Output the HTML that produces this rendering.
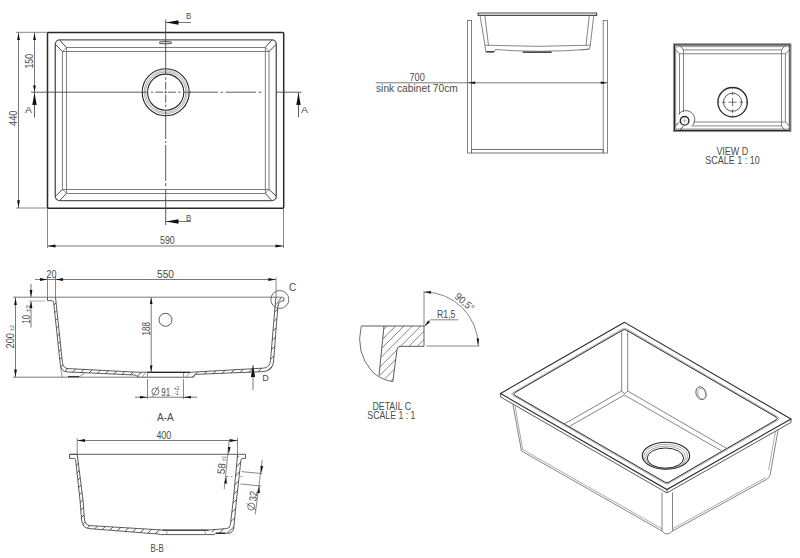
<!DOCTYPE html>
<html><head><meta charset="utf-8"><style>
html,body{margin:0;padding:0;background:#fff;width:800px;height:558px;overflow:hidden}
svg{display:block}
text{font-family:"Liberation Sans",sans-serif}
</style></head><body>
<svg width="800" height="558" viewBox="0 0 800 558" stroke-linecap="butt">
<rect width="800" height="558" fill="#fff"/>
<rect x="47.50" y="32.40" width="236.20" height="175.80" rx="1" stroke="#2a2a2a" stroke-width="1.5" fill="none"/>
<rect x="55.30" y="39.90" width="221.00" height="160.70" rx="4.4" stroke="#5a5a5a" stroke-width="1.4" fill="none"/>
<rect x="66.40" y="47.50" width="198.90" height="146.00" rx="0" stroke="#707070" stroke-width="0.9" fill="none"/>
<rect x="62.40" y="51.50" width="206.60" height="138.00" rx="0" stroke="#707070" stroke-width="0.9" fill="none"/>
<line x1="59.70" y1="39.90" x2="66.40" y2="47.50" stroke="#4a4a4a" stroke-width="1.0" />
<line x1="55.30" y1="44.30" x2="62.40" y2="51.50" stroke="#4a4a4a" stroke-width="1.0" />
<line x1="62.40" y1="51.50" x2="66.40" y2="47.50" stroke="#666" stroke-width="0.7" />
<line x1="271.90" y1="39.90" x2="265.30" y2="47.50" stroke="#4a4a4a" stroke-width="1.0" />
<line x1="276.30" y1="44.30" x2="269.00" y2="51.50" stroke="#4a4a4a" stroke-width="1.0" />
<line x1="269.00" y1="51.50" x2="265.30" y2="47.50" stroke="#666" stroke-width="0.7" />
<line x1="59.70" y1="200.60" x2="66.40" y2="193.50" stroke="#4a4a4a" stroke-width="1.0" />
<line x1="55.30" y1="196.20" x2="62.40" y2="189.50" stroke="#4a4a4a" stroke-width="1.0" />
<line x1="62.40" y1="189.50" x2="66.40" y2="193.50" stroke="#666" stroke-width="0.7" />
<line x1="271.90" y1="200.60" x2="265.30" y2="193.50" stroke="#4a4a4a" stroke-width="1.0" />
<line x1="276.30" y1="196.20" x2="269.00" y2="189.50" stroke="#4a4a4a" stroke-width="1.0" />
<line x1="269.00" y1="189.50" x2="265.30" y2="193.50" stroke="#666" stroke-width="0.7" />
<ellipse cx="165.50" cy="42.70" rx="6.50" ry="1.10" stroke="#4a4a4a" stroke-width="1.0" fill="none" transform="rotate(0 165.50 42.70)"/>
<circle cx="165.70" cy="92.20" r="23.50" stroke="#2a2a2a" stroke-width="1.15" fill="none"/>
<circle cx="165.70" cy="92.20" r="21.50" stroke="#777" stroke-width="0.55" fill="none"/>
<circle cx="165.70" cy="92.20" r="20.10" stroke="#666" stroke-width="0.55" fill="none"/>
<circle cx="165.70" cy="92.20" r="18.10" stroke="#2a2a2a" stroke-width="1.1" fill="none"/>
<line x1="31.00" y1="92.20" x2="139.40" y2="92.20" stroke="#4a4a4a" stroke-width="0.9" />
<line x1="164.90" y1="92.20" x2="166.50" y2="92.20" stroke="#4a4a4a" stroke-width="0.9" />
<line x1="164.90" y1="92.20" x2="166.50" y2="92.20" stroke="#4a4a4a" stroke-width="0.9" />
<line x1="165.70" y1="91.40" x2="165.70" y2="93.00" stroke="#4a4a4a" stroke-width="0.9" />
<line x1="165.70" y1="91.40" x2="165.70" y2="93.00" stroke="#4a4a4a" stroke-width="0.9" />
<line x1="168.10" y1="92.20" x2="176.10" y2="92.20" stroke="#4a4a4a" stroke-width="0.9" />
<line x1="155.30" y1="92.20" x2="163.30" y2="92.20" stroke="#4a4a4a" stroke-width="0.9" />
<line x1="165.70" y1="94.60" x2="165.70" y2="102.60" stroke="#4a4a4a" stroke-width="0.9" />
<line x1="165.70" y1="81.80" x2="165.70" y2="89.80" stroke="#4a4a4a" stroke-width="0.9" />
<line x1="178.10" y1="92.20" x2="180.60" y2="92.20" stroke="#4a4a4a" stroke-width="0.9" />
<line x1="150.80" y1="92.20" x2="153.30" y2="92.20" stroke="#4a4a4a" stroke-width="0.9" />
<line x1="165.70" y1="104.60" x2="165.70" y2="107.10" stroke="#4a4a4a" stroke-width="0.9" />
<line x1="165.70" y1="77.30" x2="165.70" y2="79.80" stroke="#4a4a4a" stroke-width="0.9" />
<line x1="139.40" y1="92.20" x2="147.60" y2="92.20" stroke="#4a4a4a" stroke-width="0.9" />
<line x1="183.40" y1="92.20" x2="191.00" y2="92.20" stroke="#4a4a4a" stroke-width="0.9" />
<line x1="189.00" y1="92.20" x2="218.00" y2="92.20" stroke="#4a4a4a" stroke-width="0.9" />
<line x1="220.60" y1="92.20" x2="223.00" y2="92.20" stroke="#4a4a4a" stroke-width="0.9" />
<line x1="225.60" y1="92.20" x2="256.00" y2="92.20" stroke="#4a4a4a" stroke-width="0.9" />
<line x1="258.60" y1="92.20" x2="261.50" y2="92.20" stroke="#4a4a4a" stroke-width="0.9" />
<line x1="276.00" y1="92.20" x2="301.50" y2="92.20" stroke="#4a4a4a" stroke-width="0.9" />
<line x1="165.70" y1="19.50" x2="165.70" y2="68.50" stroke="#4a4a4a" stroke-width="0.9" />
<line x1="165.70" y1="68.50" x2="165.70" y2="74.40" stroke="#4a4a4a" stroke-width="0.9" />
<line x1="165.70" y1="110.00" x2="165.70" y2="116.00" stroke="#4a4a4a" stroke-width="0.9" />
<line x1="165.70" y1="116.00" x2="165.70" y2="139.00" stroke="#4a4a4a" stroke-width="0.9" />
<line x1="165.70" y1="141.00" x2="165.70" y2="143.00" stroke="#4a4a4a" stroke-width="0.9" />
<line x1="165.70" y1="145.00" x2="165.70" y2="181.00" stroke="#4a4a4a" stroke-width="0.9" />
<line x1="165.70" y1="183.00" x2="165.70" y2="186.00" stroke="#4a4a4a" stroke-width="0.9" />
<line x1="165.70" y1="189.00" x2="165.70" y2="225.00" stroke="#4a4a4a" stroke-width="0.9" />
<line x1="165.70" y1="22.50" x2="191.00" y2="22.50" stroke="#6a6a6a" stroke-width="0.9" />
<path d="M166.00,22.50 L178.50,20.30 L178.50,24.70 Z" fill="#111" stroke="none"/>
<text x="186.00" y="19.30" font-size="9.46" text-anchor="start" fill="#4a4a4a" textLength="5.20" lengthAdjust="spacingAndGlyphs" >B</text>
<line x1="165.70" y1="221.50" x2="191.00" y2="221.50" stroke="#6a6a6a" stroke-width="0.9" />
<path d="M166.00,221.50 L178.50,219.30 L178.50,223.70 Z" fill="#111" stroke="none"/>
<text x="186.00" y="221.30" font-size="9.46" text-anchor="start" fill="#4a4a4a" textLength="5.20" lengthAdjust="spacingAndGlyphs" >B</text>
<line x1="34.50" y1="92.50" x2="34.50" y2="117.50" stroke="#4a4a4a" stroke-width="0.9" />
<path d="M34.50,92.60 L36.70,105.00 L32.30,105.00 Z" fill="#111" stroke="none"/>
<text x="25.00" y="113.30" font-size="9.46" text-anchor="start" fill="#4a4a4a" textLength="7.00" lengthAdjust="spacingAndGlyphs" >A</text>
<line x1="298.50" y1="92.50" x2="298.50" y2="117.50" stroke="#4a4a4a" stroke-width="0.9" />
<path d="M298.50,92.60 L300.70,105.00 L296.30,105.00 Z" fill="#111" stroke="none"/>
<text x="301.00" y="113.30" font-size="9.46" text-anchor="start" fill="#4a4a4a" textLength="7.00" lengthAdjust="spacingAndGlyphs" >A</text>
<line x1="16.00" y1="32.30" x2="47.00" y2="32.30" stroke="#6a6a6a" stroke-width="0.8" />
<line x1="16.00" y1="208.00" x2="47.00" y2="208.00" stroke="#6a6a6a" stroke-width="0.8" />
<line x1="18.50" y1="32.30" x2="18.50" y2="208.00" stroke="#6a6a6a" stroke-width="0.9" />
<path d="M18.50,32.50 L19.90,40.00 L17.10,40.00 Z" fill="#111" stroke="none"/>
<path d="M18.50,207.80 L17.10,200.30 L19.90,200.30 Z" fill="#111" stroke="none"/>
<text x="16.50" y="126.00" font-size="10.78" text-anchor="start" fill="#4a4a4a" textLength="15.50" lengthAdjust="spacingAndGlyphs" transform="rotate(-90 16.50 126.00)" >440</text>
<line x1="34.50" y1="32.30" x2="34.50" y2="92.20" stroke="#6a6a6a" stroke-width="0.9" />
<path d="M34.50,32.50 L35.90,40.00 L33.10,40.00 Z" fill="#111" stroke="none"/>
<path d="M34.50,92.00 L33.10,85.50 L35.90,85.50 Z" fill="#111" stroke="none"/>
<text x="33.20" y="68.50" font-size="10.78" text-anchor="start" fill="#4a4a4a" textLength="14.50" lengthAdjust="spacingAndGlyphs" transform="rotate(-90 33.20 68.50)" >150</text>
<line x1="47.50" y1="208.00" x2="47.50" y2="248.00" stroke="#6a6a6a" stroke-width="0.8" />
<line x1="283.50" y1="208.00" x2="283.50" y2="248.00" stroke="#6a6a6a" stroke-width="0.8" />
<line x1="47.50" y1="246.00" x2="283.50" y2="246.00" stroke="#6a6a6a" stroke-width="0.9" />
<path d="M47.70,246.00 L55.50,244.60 L55.50,247.40 Z" fill="#111" stroke="none"/>
<path d="M283.30,246.00 L275.50,247.40 L275.50,244.60 Z" fill="#111" stroke="none"/>
<text x="160.00" y="244.00" font-size="10.78" text-anchor="start" fill="#4a4a4a" textLength="14.80" lengthAdjust="spacingAndGlyphs" >590</text>
<rect x="467.40" y="20.50" width="4.20" height="132.50" rx="0" stroke="#666" stroke-width="0.8" fill="none"/>
<rect x="603.20" y="20.50" width="4.30" height="132.50" rx="0" stroke="#666" stroke-width="0.8" fill="none"/>
<rect x="471.60" y="149.50" width="131.60" height="3.50" rx="0" stroke="#666" stroke-width="0.9" fill="none"/>
<line x1="375.70" y1="82.80" x2="607.50" y2="82.80" stroke="#6a6a6a" stroke-width="0.9" />
<path d="M467.60,82.80 L475.20,81.50 L475.20,84.10 Z" fill="#111" stroke="none"/>
<path d="M607.40,82.80 L600.80,84.10 L600.80,81.50 Z" fill="#111" stroke="none"/>
<text x="409.50" y="80.50" font-size="10.34" text-anchor="start" fill="#4a4a4a" textLength="15.30" lengthAdjust="spacingAndGlyphs" >700</text>
<text x="376.00" y="92.20" font-size="10.34" text-anchor="start" fill="#4a4a4a" textLength="81.80" lengthAdjust="spacingAndGlyphs" >sink cabinet 70cm</text>
<path d="M478.2,13 L596.6,13 L596.6,15.3 L478.2,15.3 Z" stroke="#4a4a4a" stroke-width="1.2" fill="none" />
<line x1="480.00" y1="15.30" x2="485.00" y2="45.50" stroke="#666" stroke-width="0.8" />
<line x1="484.80" y1="15.30" x2="488.50" y2="45.50" stroke="#666" stroke-width="0.8" />
<line x1="589.30" y1="15.30" x2="586.00" y2="45.50" stroke="#666" stroke-width="0.8" />
<line x1="593.80" y1="15.30" x2="590.20" y2="46.00" stroke="#666" stroke-width="0.8" />
<path d="M485,45.2 Q537,47.5 590,45.2" stroke="#666" stroke-width="0.8" fill="none" />
<path d="M485,45.5 L485.5,50.5 Q486,52 489,52 L494,52 L495.5,49.5 Q537,53 587,49.5 Q590.5,48.8 590.2,46" stroke="#666" stroke-width="0.8" fill="none" />
<line x1="485.50" y1="51.80" x2="494.00" y2="51.80" stroke="#2a2a2a" stroke-width="1.2" />
<line x1="522.70" y1="52.20" x2="551.70" y2="52.20" stroke="#2a2a2a" stroke-width="1.3" />
<line x1="580.00" y1="49.80" x2="590.00" y2="49.00" stroke="#666" stroke-width="0.6" />
<rect x="683.40" y="49.90" width="98.00" height="76.00" rx="0" stroke="#666" stroke-width="0.8" fill="none"/>
<rect x="679.50" y="53.80" width="105.80" height="68.20" rx="0" stroke="#666" stroke-width="0.8" fill="none"/>
<line x1="680.10" y1="45.60" x2="683.40" y2="49.90" stroke="#4a4a4a" stroke-width="0.8" />
<line x1="675.60" y1="50.10" x2="679.50" y2="53.80" stroke="#4a4a4a" stroke-width="0.8" />
<line x1="784.90" y1="45.60" x2="781.40" y2="49.90" stroke="#4a4a4a" stroke-width="0.8" />
<line x1="789.40" y1="50.10" x2="785.30" y2="53.80" stroke="#4a4a4a" stroke-width="0.8" />
<line x1="680.10" y1="130.20" x2="683.40" y2="125.90" stroke="#4a4a4a" stroke-width="0.8" />
<line x1="675.60" y1="125.70" x2="679.50" y2="122.00" stroke="#4a4a4a" stroke-width="0.8" />
<line x1="784.90" y1="130.20" x2="781.40" y2="125.90" stroke="#4a4a4a" stroke-width="0.8" />
<line x1="789.40" y1="125.70" x2="785.30" y2="122.00" stroke="#4a4a4a" stroke-width="0.8" />
<circle cx="685.50" cy="120.00" r="8.40" stroke="none" stroke-width="0" fill="#fff"/>
<line x1="680.10" y1="130.20" x2="683.40" y2="125.90" stroke="#4a4a4a" stroke-width="0.8" />
<line x1="675.60" y1="125.70" x2="679.50" y2="122.00" stroke="#4a4a4a" stroke-width="0.8" />
<rect x="673.40" y="43.70" width="117.60" height="87.90" rx="0" stroke="#888" stroke-width="0.9" fill="none"/>
<rect x="674.60" y="44.90" width="115.20" height="85.50" rx="0" stroke="#2a2a2a" stroke-width="1.3" fill="none"/>
<rect x="675.70" y="46.60" width="113.50" height="82.40" rx="1.5" stroke="#777" stroke-width="0.8" fill="none"/>
<circle cx="732.60" cy="102.20" r="14.70" stroke="#2a2a2a" stroke-width="1.3" fill="none"/>
<circle cx="732.60" cy="102.20" r="9.10" stroke="#4a4a4a" stroke-width="0.9" fill="none"/>
<line x1="728.50" y1="102.20" x2="736.70" y2="102.20" stroke="#4a4a4a" stroke-width="0.8" />
<line x1="732.60" y1="98.10" x2="732.60" y2="106.30" stroke="#4a4a4a" stroke-width="0.8" />
<line x1="717.50" y1="102.20" x2="719.50" y2="102.20" stroke="#4a4a4a" stroke-width="0.8" />
<line x1="732.60" y1="87.10" x2="732.60" y2="89.10" stroke="#4a4a4a" stroke-width="0.8" />
<line x1="722.00" y1="102.20" x2="725.50" y2="102.20" stroke="#4a4a4a" stroke-width="0.8" />
<line x1="732.60" y1="91.60" x2="732.60" y2="95.10" stroke="#4a4a4a" stroke-width="0.8" />
<line x1="739.70" y1="102.20" x2="743.20" y2="102.20" stroke="#4a4a4a" stroke-width="0.8" />
<line x1="732.60" y1="109.30" x2="732.60" y2="112.80" stroke="#4a4a4a" stroke-width="0.8" />
<line x1="745.70" y1="102.20" x2="747.70" y2="102.20" stroke="#4a4a4a" stroke-width="0.8" />
<line x1="732.60" y1="115.30" x2="732.60" y2="117.30" stroke="#4a4a4a" stroke-width="0.8" />
<circle cx="684.60" cy="120.80" r="4.30" stroke="#2a2a2a" stroke-width="1.4" fill="#fff"/>
<line x1="682.10" y1="120.80" x2="687.10" y2="120.80" stroke="#999" stroke-width="0.6" />
<line x1="684.60" y1="118.30" x2="684.60" y2="123.30" stroke="#999" stroke-width="0.6" />
<path d="M678.2,114.8 A9.0,9.0 0 1 1 692.6,125.5" stroke="#4a4a4a" stroke-width="0.8" fill="none" />
<text x="716.40" y="154.70" font-size="10.12" text-anchor="start" fill="#4a4a4a" textLength="31.90" lengthAdjust="spacingAndGlyphs" >VIEW D</text>
<text x="705.20" y="163.70" font-size="10.12" text-anchor="start" fill="#4a4a4a" textLength="54.50" lengthAdjust="spacingAndGlyphs" >SCALE 1 : 10</text>
<line x1="13.00" y1="297.20" x2="283.00" y2="297.20" stroke="#6a6a6a" stroke-width="0.9" />
<path d="M47.5,297.2 V300.6 H51.2 Q53.2,300.6 53.6,302.2" stroke="#4a4a4a" stroke-width="0.9" fill="none" />
<path d="M53.6,302.2 L60.3,364.5 Q61.2,371.6 67,371.9 L135,375" stroke="#4a4a4a" stroke-width="0.9" fill="none" />
<path d="M55.5,297.2 L62.4,362.5 Q63.2,368.4 68,368.6 L137,372.2 L190,372.3 L263.5,368.1 Q269.9,367.8 270.5,360.5 L275.6,300 L276.1,297.2" stroke="#4a4a4a" stroke-width="0.9" fill="none" />
<path d="M195,374.4 L263,371.6 Q273,371.2 273.6,361 L277.9,306 Q278.4,302.2 281.5,301 L283.8,301 L283.8,297.2" stroke="#4a4a4a" stroke-width="0.9" fill="none" />
<path d="M135,375 L139,377.2 L147.5,377.2 L193.5,377.2 L195,374.6" stroke="#4a4a4a" stroke-width="0.9" fill="none" />
<line x1="147.50" y1="372.30" x2="147.50" y2="377.20" stroke="#666" stroke-width="0.7" />
<line x1="183.50" y1="372.30" x2="183.50" y2="377.20" stroke="#666" stroke-width="0.7" />
<line x1="142.00" y1="377.20" x2="145.50" y2="372.60" stroke="#666" stroke-width="0.6" />
<line x1="186.00" y1="377.20" x2="190.00" y2="372.60" stroke="#666" stroke-width="0.6" />
<line x1="147.50" y1="372.40" x2="190.00" y2="372.40" stroke="#2a2a2a" stroke-width="1.2" />
<path d="M60.3,366 L62.2,377" stroke="#666" stroke-width="0.7" fill="none" />
<line x1="68.00" y1="376.60" x2="79.00" y2="376.60" stroke="#2a2a2a" stroke-width="1.3" />
<path d="M79,376.8 L84.5,373.2" stroke="#666" stroke-width="0.7" fill="none" />
<defs><clipPath id="hc1"><path d="M53.6,302.2 L60.3,364.5 Q61.2,371.6 67,371.9 L135,375 L139,377.2 L145.5,372.6 L137,372.2 L68,368.6 Q63.2,368.4 62.4,362.5 L55.5,299 Z"/></clipPath></defs>
<g clip-path="url(#hc1)">
<line x1="-47.00" y1="380" x2="43.00" y2="290" stroke="#2a2a2a" stroke-width="0.8"/>
<line x1="-38.40" y1="380" x2="51.60" y2="290" stroke="#2a2a2a" stroke-width="0.8"/>
<line x1="-29.80" y1="380" x2="60.20" y2="290" stroke="#2a2a2a" stroke-width="0.8"/>
<line x1="-21.20" y1="380" x2="68.80" y2="290" stroke="#2a2a2a" stroke-width="0.8"/>
<line x1="-12.60" y1="380" x2="77.40" y2="290" stroke="#2a2a2a" stroke-width="0.8"/>
<line x1="-4.00" y1="380" x2="86.00" y2="290" stroke="#2a2a2a" stroke-width="0.8"/>
<line x1="4.60" y1="380" x2="94.60" y2="290" stroke="#2a2a2a" stroke-width="0.8"/>
<line x1="13.20" y1="380" x2="103.20" y2="290" stroke="#2a2a2a" stroke-width="0.8"/>
<line x1="21.80" y1="380" x2="111.80" y2="290" stroke="#2a2a2a" stroke-width="0.8"/>
<line x1="30.40" y1="380" x2="120.40" y2="290" stroke="#2a2a2a" stroke-width="0.8"/>
<line x1="39.00" y1="380" x2="129.00" y2="290" stroke="#2a2a2a" stroke-width="0.8"/>
<line x1="47.60" y1="380" x2="137.60" y2="290" stroke="#2a2a2a" stroke-width="0.8"/>
<line x1="56.20" y1="380" x2="146.20" y2="290" stroke="#2a2a2a" stroke-width="0.8"/>
<line x1="64.80" y1="380" x2="154.80" y2="290" stroke="#2a2a2a" stroke-width="0.8"/>
<line x1="73.40" y1="380" x2="163.40" y2="290" stroke="#2a2a2a" stroke-width="0.8"/>
<line x1="82.00" y1="380" x2="172.00" y2="290" stroke="#2a2a2a" stroke-width="0.8"/>
<line x1="90.60" y1="380" x2="180.60" y2="290" stroke="#2a2a2a" stroke-width="0.8"/>
<line x1="99.20" y1="380" x2="189.20" y2="290" stroke="#2a2a2a" stroke-width="0.8"/>
<line x1="107.80" y1="380" x2="197.80" y2="290" stroke="#2a2a2a" stroke-width="0.8"/>
<line x1="116.40" y1="380" x2="206.40" y2="290" stroke="#2a2a2a" stroke-width="0.8"/>
<line x1="125.00" y1="380" x2="215.00" y2="290" stroke="#2a2a2a" stroke-width="0.8"/>
<line x1="133.60" y1="380" x2="223.60" y2="290" stroke="#2a2a2a" stroke-width="0.8"/>
<line x1="142.20" y1="380" x2="232.20" y2="290" stroke="#2a2a2a" stroke-width="0.8"/>
</g>
<defs><clipPath id="hc2"><path d="M195,374.4 L263,371.6 Q273,371.2 273.6,361 L277.9,306 L275.5,306 L270.5,360.5 Q269.9,367.8 263.5,368.1 L190,372.3 L186,377.2 L193.5,377.2 Z"/></clipPath></defs>
<g clip-path="url(#hc2)">
<line x1="95.00" y1="380" x2="185.00" y2="290" stroke="#2a2a2a" stroke-width="0.8"/>
<line x1="103.60" y1="380" x2="193.60" y2="290" stroke="#2a2a2a" stroke-width="0.8"/>
<line x1="112.20" y1="380" x2="202.20" y2="290" stroke="#2a2a2a" stroke-width="0.8"/>
<line x1="120.80" y1="380" x2="210.80" y2="290" stroke="#2a2a2a" stroke-width="0.8"/>
<line x1="129.40" y1="380" x2="219.40" y2="290" stroke="#2a2a2a" stroke-width="0.8"/>
<line x1="138.00" y1="380" x2="228.00" y2="290" stroke="#2a2a2a" stroke-width="0.8"/>
<line x1="146.60" y1="380" x2="236.60" y2="290" stroke="#2a2a2a" stroke-width="0.8"/>
<line x1="155.20" y1="380" x2="245.20" y2="290" stroke="#2a2a2a" stroke-width="0.8"/>
<line x1="163.80" y1="380" x2="253.80" y2="290" stroke="#2a2a2a" stroke-width="0.8"/>
<line x1="172.40" y1="380" x2="262.40" y2="290" stroke="#2a2a2a" stroke-width="0.8"/>
<line x1="181.00" y1="380" x2="271.00" y2="290" stroke="#2a2a2a" stroke-width="0.8"/>
<line x1="189.60" y1="380" x2="279.60" y2="290" stroke="#2a2a2a" stroke-width="0.8"/>
<line x1="198.20" y1="380" x2="288.20" y2="290" stroke="#2a2a2a" stroke-width="0.8"/>
<line x1="206.80" y1="380" x2="296.80" y2="290" stroke="#2a2a2a" stroke-width="0.8"/>
<line x1="215.40" y1="380" x2="305.40" y2="290" stroke="#2a2a2a" stroke-width="0.8"/>
<line x1="224.00" y1="380" x2="314.00" y2="290" stroke="#2a2a2a" stroke-width="0.8"/>
<line x1="232.60" y1="380" x2="322.60" y2="290" stroke="#2a2a2a" stroke-width="0.8"/>
<line x1="241.20" y1="380" x2="331.20" y2="290" stroke="#2a2a2a" stroke-width="0.8"/>
<line x1="249.80" y1="380" x2="339.80" y2="290" stroke="#2a2a2a" stroke-width="0.8"/>
<line x1="258.40" y1="380" x2="348.40" y2="290" stroke="#2a2a2a" stroke-width="0.8"/>
<line x1="267.00" y1="380" x2="357.00" y2="290" stroke="#2a2a2a" stroke-width="0.8"/>
<line x1="275.60" y1="380" x2="365.60" y2="290" stroke="#2a2a2a" stroke-width="0.8"/>
<line x1="284.20" y1="380" x2="374.20" y2="290" stroke="#2a2a2a" stroke-width="0.8"/>
</g>
<path d="M276.3,304.5 L281.2,297.6" stroke="#4a4a4a" stroke-width="0.9" fill="none" />
<circle cx="279.80" cy="299.50" r="9.00" stroke="#4a4a4a" stroke-width="0.8" fill="none"/>
<text x="289.00" y="290.90" font-size="10.56" text-anchor="start" fill="#4a4a4a" textLength="7.20" lengthAdjust="spacingAndGlyphs" >C</text>
<line x1="47.50" y1="276.00" x2="47.50" y2="297.20" stroke="#6a6a6a" stroke-width="0.8" />
<line x1="55.50" y1="276.00" x2="55.50" y2="297.20" stroke="#6a6a6a" stroke-width="0.8" />
<line x1="276.10" y1="277.50" x2="276.10" y2="297.20" stroke="#6a6a6a" stroke-width="0.8" />
<line x1="35.00" y1="279.50" x2="276.00" y2="279.50" stroke="#6a6a6a" stroke-width="0.9" />
<path d="M47.40,279.50 L40.00,280.90 L40.00,278.10 Z" fill="#111" stroke="none"/>
<path d="M55.60,279.50 L63.00,278.10 L63.00,280.90 Z" fill="#111" stroke="none"/>
<path d="M275.80,279.50 L268.30,280.90 L268.30,278.10 Z" fill="#111" stroke="none"/>
<text x="46.50" y="277.80" font-size="10.56" text-anchor="start" fill="#4a4a4a" textLength="10.00" lengthAdjust="spacingAndGlyphs" >20</text>
<text x="157.00" y="278.00" font-size="10.56" text-anchor="start" fill="#4a4a4a" textLength="17.00" lengthAdjust="spacingAndGlyphs" >550</text>
<line x1="31.00" y1="284.00" x2="31.00" y2="297.20" stroke="#6a6a6a" stroke-width="0.9" />
<path d="M31.00,297.00 L29.60,290.00 L32.40,290.00 Z" fill="#111" stroke="none"/>
<line x1="31.00" y1="301.00" x2="31.00" y2="327.50" stroke="#6a6a6a" stroke-width="0.9" />
<path d="M31.00,301.20 L32.40,308.00 L29.60,308.00 Z" fill="#111" stroke="none"/>
<line x1="29.00" y1="301.00" x2="45.00" y2="301.00" stroke="#aaa" stroke-width="0.9" />
<text x="29.50" y="323.50" font-size="10.56" text-anchor="start" fill="#4a4a4a" textLength="8.50" lengthAdjust="spacingAndGlyphs" transform="rotate(-90 29.50 323.50)" >10</text>
<text x="29.50" y="312.00" font-size="6.0" text-anchor="start" fill="#4a4a4a" textLength="7.00" lengthAdjust="spacingAndGlyphs" transform="rotate(-90 29.50 312.00)" >±2</text>
<line x1="15.50" y1="297.20" x2="15.50" y2="377.20" stroke="#6a6a6a" stroke-width="0.9" />
<path d="M15.50,297.40 L16.90,305.00 L14.10,305.00 Z" fill="#111" stroke="none"/>
<path d="M15.50,377.00 L14.10,369.50 L16.90,369.50 Z" fill="#111" stroke="none"/>
<line x1="13.00" y1="377.20" x2="139.00" y2="377.20" stroke="#6a6a6a" stroke-width="0.9" />
<text x="14.20" y="348.50" font-size="10.56" text-anchor="start" fill="#4a4a4a" textLength="15.50" lengthAdjust="spacingAndGlyphs" transform="rotate(-90 14.20 348.50)" >200</text>
<text x="14.00" y="331.00" font-size="6.0" text-anchor="start" fill="#4a4a4a" textLength="6.00" lengthAdjust="spacingAndGlyphs" transform="rotate(-90 14.00 331.00)" >±2</text>
<line x1="151.20" y1="297.20" x2="151.20" y2="372.30" stroke="#6a6a6a" stroke-width="0.9" />
<path d="M151.20,297.40 L152.50,304.00 L149.90,304.00 Z" fill="#111" stroke="none"/>
<path d="M151.20,372.10 L149.90,365.50 L152.50,365.50 Z" fill="#111" stroke="none"/>
<text x="149.50" y="335.50" font-size="10.56" text-anchor="start" fill="#4a4a4a" textLength="13.50" lengthAdjust="spacingAndGlyphs" transform="rotate(-90 149.50 335.50)" >188</text>
<circle cx="165.50" cy="319.80" r="6.50" stroke="#4a4a4a" stroke-width="0.9" fill="none"/>
<line x1="147.50" y1="379.00" x2="147.50" y2="399.00" stroke="#6a6a6a" stroke-width="0.8" />
<line x1="183.50" y1="379.00" x2="183.50" y2="399.00" stroke="#6a6a6a" stroke-width="0.8" />
<line x1="135.00" y1="397.20" x2="197.00" y2="397.20" stroke="#6a6a6a" stroke-width="0.9" />
<path d="M147.40,397.20 L140.00,398.50 L140.00,395.90 Z" fill="#111" stroke="none"/>
<path d="M183.60,397.20 L191.00,395.90 L191.00,398.50 Z" fill="#111" stroke="none"/>
<circle cx="155.40" cy="391.50" r="3.50" stroke="#4a4a4a" stroke-width="0.75" fill="none"/>
<line x1="152.30" y1="396.60" x2="158.60" y2="386.40" stroke="#4a4a4a" stroke-width="0.75" />
<text x="161.30" y="396.20" font-size="10.56" text-anchor="start" fill="#4a4a4a" textLength="8.90" lengthAdjust="spacingAndGlyphs" >91</text>
<text x="174.00" y="390.00" font-size="5.0" text-anchor="start" fill="#4a4a4a" textLength="5.50" lengthAdjust="spacingAndGlyphs" >+2</text>
<text x="174.00" y="395.00" font-size="5.0" text-anchor="start" fill="#4a4a4a" textLength="5.00" lengthAdjust="spacingAndGlyphs" >-1</text>
<line x1="253.00" y1="365.00" x2="253.00" y2="390.00" stroke="#6a6a6a" stroke-width="0.9" />
<path d="M253.00,365.20 L255.10,377.00 L250.90,377.00 Z" fill="#111" stroke="none"/>
<text x="262.30" y="380.60" font-size="9.46" text-anchor="start" fill="#4a4a4a" textLength="6.50" lengthAdjust="spacingAndGlyphs" >D</text>
<text x="157.00" y="421.00" font-size="10.12" text-anchor="start" fill="#4a4a4a" textLength="16.80" lengthAdjust="spacingAndGlyphs" >A-A</text>
<defs><clipPath id="cclip"><path d="M384,326 L424,326 L424,346.3 L400,346.3 Q397.3,346.6 397,349.8 L393,381.5 A47.5,47.5 0 0 1 379,375.5 Z"/></clipPath></defs>
<g clip-path="url(#cclip)">
<line x1="229.20" y1="400.00" x2="309.20" y2="320.00" stroke="#666" stroke-width="0.8" />
<line x1="237.60" y1="400.00" x2="317.60" y2="320.00" stroke="#666" stroke-width="0.8" />
<line x1="246.00" y1="400.00" x2="326.00" y2="320.00" stroke="#666" stroke-width="0.8" />
<line x1="254.40" y1="400.00" x2="334.40" y2="320.00" stroke="#666" stroke-width="0.8" />
<line x1="262.80" y1="400.00" x2="342.80" y2="320.00" stroke="#666" stroke-width="0.8" />
<line x1="271.20" y1="400.00" x2="351.20" y2="320.00" stroke="#666" stroke-width="0.8" />
<line x1="279.60" y1="400.00" x2="359.60" y2="320.00" stroke="#666" stroke-width="0.8" />
<line x1="288.00" y1="400.00" x2="368.00" y2="320.00" stroke="#666" stroke-width="0.8" />
<line x1="296.40" y1="400.00" x2="376.40" y2="320.00" stroke="#666" stroke-width="0.8" />
<line x1="304.80" y1="400.00" x2="384.80" y2="320.00" stroke="#666" stroke-width="0.8" />
<line x1="313.20" y1="400.00" x2="393.20" y2="320.00" stroke="#666" stroke-width="0.8" />
<line x1="321.60" y1="400.00" x2="401.60" y2="320.00" stroke="#666" stroke-width="0.8" />
<line x1="330.00" y1="400.00" x2="410.00" y2="320.00" stroke="#666" stroke-width="0.8" />
<line x1="338.40" y1="400.00" x2="418.40" y2="320.00" stroke="#666" stroke-width="0.8" />
<line x1="346.80" y1="400.00" x2="426.80" y2="320.00" stroke="#666" stroke-width="0.8" />
<line x1="355.20" y1="400.00" x2="435.20" y2="320.00" stroke="#666" stroke-width="0.8" />
<line x1="363.60" y1="400.00" x2="443.60" y2="320.00" stroke="#666" stroke-width="0.8" />
<line x1="372.00" y1="400.00" x2="452.00" y2="320.00" stroke="#666" stroke-width="0.8" />
<line x1="380.40" y1="400.00" x2="460.40" y2="320.00" stroke="#666" stroke-width="0.8" />
<line x1="388.80" y1="400.00" x2="468.80" y2="320.00" stroke="#666" stroke-width="0.8" />
<line x1="397.20" y1="400.00" x2="477.20" y2="320.00" stroke="#666" stroke-width="0.8" />
<line x1="405.60" y1="400.00" x2="485.60" y2="320.00" stroke="#666" stroke-width="0.8" />
<line x1="414.00" y1="400.00" x2="494.00" y2="320.00" stroke="#666" stroke-width="0.8" />
<line x1="422.40" y1="400.00" x2="502.40" y2="320.00" stroke="#666" stroke-width="0.8" />
<line x1="430.80" y1="400.00" x2="510.80" y2="320.00" stroke="#666" stroke-width="0.8" />
<line x1="439.20" y1="400.00" x2="519.20" y2="320.00" stroke="#666" stroke-width="0.8" />
</g>
<path d="M361.3,326 L424,326 L424,346.3 L400,346.3 Q397.3,346.6 397,349.8 L392.8,381.6" stroke="#4a4a4a" stroke-width="0.9" fill="none" />
<path d="M384,326 L379,375.5" stroke="#4a4a4a" stroke-width="0.9" fill="none" />
<path d="M361.3,326 Q355,352 372,371.5 Q381,380 392.8,381.6" stroke="#4a4a4a" stroke-width="0.8" fill="none" />
<line x1="424.00" y1="291.00" x2="424.00" y2="326.00" stroke="#6a6a6a" stroke-width="0.8" />
<line x1="426.30" y1="346.00" x2="479.60" y2="346.00" stroke="#6a6a6a" stroke-width="0.8" />
<path d="M424.2,292 A54,54 0 0 1 478.2,345.6" stroke="#6a6a6a" stroke-width="0.8" fill="none" />
<path d="M424.30,292.00 L431.08,291.10 L430.92,293.70 Z" fill="#111" stroke="none"/>
<path d="M478.20,345.60 L476.50,338.57 L479.10,338.43 Z" fill="#111" stroke="none"/>
<text x="454.00" y="297.50" font-size="10.34" text-anchor="start" fill="#4a4a4a" textLength="22.00" lengthAdjust="spacingAndGlyphs" transform="rotate(41 454.00 297.50)" >90,5°</text>
<line x1="430.50" y1="319.80" x2="458.30" y2="319.80" stroke="#6a6a6a" stroke-width="0.8" />
<line x1="424.40" y1="326.60" x2="430.50" y2="319.80" stroke="#6a6a6a" stroke-width="0.8" />
<path d="M424.60,326.30 L428.03,320.53 L429.97,322.27 Z" fill="#111" stroke="none"/>
<text x="437.00" y="317.60" font-size="10.34" text-anchor="start" fill="#4a4a4a" textLength="18.40" lengthAdjust="spacingAndGlyphs" >R1,5</text>
<text x="372.40" y="410.20" font-size="10.12" text-anchor="start" fill="#4a4a4a" textLength="38.70" lengthAdjust="spacingAndGlyphs" >DETAIL C</text>
<text x="367.30" y="419.10" font-size="10.12" text-anchor="start" fill="#4a4a4a" textLength="48.10" lengthAdjust="spacingAndGlyphs" >SCALE 1 : 1</text>
<line x1="69.50" y1="454.30" x2="245.50" y2="454.30" stroke="#4a4a4a" stroke-width="0.9" />
<line x1="77.20" y1="438.00" x2="77.20" y2="454.30" stroke="#6a6a6a" stroke-width="0.8" />
<line x1="237.50" y1="438.00" x2="237.50" y2="454.30" stroke="#6a6a6a" stroke-width="0.8" />
<line x1="77.20" y1="440.50" x2="237.50" y2="440.50" stroke="#6a6a6a" stroke-width="0.9" />
<path d="M77.40,440.50 L85.00,439.10 L85.00,441.90 Z" fill="#111" stroke="none"/>
<path d="M237.30,440.50 L229.70,441.90 L229.70,439.10 Z" fill="#111" stroke="none"/>
<text x="156.40" y="438.70" font-size="10.56" text-anchor="start" fill="#4a4a4a" textLength="14.90" lengthAdjust="spacingAndGlyphs" >400</text>
<path d="M77.2,454.3 L70,454.3 Q69.5,454.3 69.5,455 L69.5,458.4 L73.8,458.4 Q75.4,458.4 75.6,459.6 L80,500 L81.6,520 Q82.4,528 89,528.6 L158,534 L160.5,534.6 L214,534.6 L215.5,533.3 L229.3,533.2 Q232.6,533 233.8,528 L236.5,500 L241,459.6 Q241.3,458.4 243,458.4 L245.5,458.4 L245.5,455 Q245.5,454.3 244.8,454.3" stroke="#4a4a4a" stroke-width="0.9" fill="none" />
<path d="M77.2,454.3 L83,500 L84.4,519 Q85.2,525.4 90,525.6 L162.5,530 L208.7,530 L226.5,528.6 Q230.2,528.3 230.4,524.5 L233.3,500 L237.6,454.3" stroke="#4a4a4a" stroke-width="0.9" fill="none" />
<line x1="162.50" y1="530.20" x2="208.70" y2="530.20" stroke="#2a2a2a" stroke-width="1.1" />
<line x1="216.00" y1="533.30" x2="225.00" y2="533.30" stroke="#2a2a2a" stroke-width="1.4" />
<line x1="166.00" y1="530.00" x2="167.50" y2="534.60" stroke="#666" stroke-width="0.6" />
<line x1="204.00" y1="530.00" x2="206.00" y2="534.60" stroke="#666" stroke-width="0.6" />
<defs><clipPath id="hc3"><path d="M75.6,459.6 L80,500 L81.6,520 Q82.4,528 89,528.6 L158,534 L160.5,534.6 L166,530 L162.5,530 L90,525.4 Q85.2,525.2 84.4,519 L83,500 L77.6,456 Z"/></clipPath></defs>
<g clip-path="url(#hc3)">
<line x1="-23.00" y1="540" x2="67.00" y2="450" stroke="#2a2a2a" stroke-width="0.8"/>
<line x1="-14.80" y1="540" x2="75.20" y2="450" stroke="#2a2a2a" stroke-width="0.8"/>
<line x1="-6.60" y1="540" x2="83.40" y2="450" stroke="#2a2a2a" stroke-width="0.8"/>
<line x1="1.60" y1="540" x2="91.60" y2="450" stroke="#2a2a2a" stroke-width="0.8"/>
<line x1="9.80" y1="540" x2="99.80" y2="450" stroke="#2a2a2a" stroke-width="0.8"/>
<line x1="18.00" y1="540" x2="108.00" y2="450" stroke="#2a2a2a" stroke-width="0.8"/>
<line x1="26.20" y1="540" x2="116.20" y2="450" stroke="#2a2a2a" stroke-width="0.8"/>
<line x1="34.40" y1="540" x2="124.40" y2="450" stroke="#2a2a2a" stroke-width="0.8"/>
<line x1="42.60" y1="540" x2="132.60" y2="450" stroke="#2a2a2a" stroke-width="0.8"/>
<line x1="50.80" y1="540" x2="140.80" y2="450" stroke="#2a2a2a" stroke-width="0.8"/>
<line x1="59.00" y1="540" x2="149.00" y2="450" stroke="#2a2a2a" stroke-width="0.8"/>
<line x1="67.20" y1="540" x2="157.20" y2="450" stroke="#2a2a2a" stroke-width="0.8"/>
<line x1="75.40" y1="540" x2="165.40" y2="450" stroke="#2a2a2a" stroke-width="0.8"/>
<line x1="83.60" y1="540" x2="173.60" y2="450" stroke="#2a2a2a" stroke-width="0.8"/>
<line x1="91.80" y1="540" x2="181.80" y2="450" stroke="#2a2a2a" stroke-width="0.8"/>
<line x1="100.00" y1="540" x2="190.00" y2="450" stroke="#2a2a2a" stroke-width="0.8"/>
<line x1="108.20" y1="540" x2="198.20" y2="450" stroke="#2a2a2a" stroke-width="0.8"/>
<line x1="116.40" y1="540" x2="206.40" y2="450" stroke="#2a2a2a" stroke-width="0.8"/>
<line x1="124.60" y1="540" x2="214.60" y2="450" stroke="#2a2a2a" stroke-width="0.8"/>
<line x1="132.80" y1="540" x2="222.80" y2="450" stroke="#2a2a2a" stroke-width="0.8"/>
<line x1="141.00" y1="540" x2="231.00" y2="450" stroke="#2a2a2a" stroke-width="0.8"/>
<line x1="149.20" y1="540" x2="239.20" y2="450" stroke="#2a2a2a" stroke-width="0.8"/>
<line x1="157.40" y1="540" x2="247.40" y2="450" stroke="#2a2a2a" stroke-width="0.8"/>
<line x1="165.60" y1="540" x2="255.60" y2="450" stroke="#2a2a2a" stroke-width="0.8"/>
<line x1="173.80" y1="540" x2="263.80" y2="450" stroke="#2a2a2a" stroke-width="0.8"/>
</g>
<defs><clipPath id="hc4"><path d="M214,534.6 L215.5,533.3 L229.3,533.2 Q232.6,533 233.8,528 L236.5,500 L241,459.6 L237.6,455 L233.3,500 L230.4,524.5 Q230.2,528.3 226.5,528.6 L208.7,530 Z"/></clipPath></defs>
<g clip-path="url(#hc4)">
<line x1="114.00" y1="540" x2="204.00" y2="450" stroke="#2a2a2a" stroke-width="0.8"/>
<line x1="122.20" y1="540" x2="212.20" y2="450" stroke="#2a2a2a" stroke-width="0.8"/>
<line x1="130.40" y1="540" x2="220.40" y2="450" stroke="#2a2a2a" stroke-width="0.8"/>
<line x1="138.60" y1="540" x2="228.60" y2="450" stroke="#2a2a2a" stroke-width="0.8"/>
<line x1="146.80" y1="540" x2="236.80" y2="450" stroke="#2a2a2a" stroke-width="0.8"/>
<line x1="155.00" y1="540" x2="245.00" y2="450" stroke="#2a2a2a" stroke-width="0.8"/>
<line x1="163.20" y1="540" x2="253.20" y2="450" stroke="#2a2a2a" stroke-width="0.8"/>
<line x1="171.40" y1="540" x2="261.40" y2="450" stroke="#2a2a2a" stroke-width="0.8"/>
<line x1="179.60" y1="540" x2="269.60" y2="450" stroke="#2a2a2a" stroke-width="0.8"/>
<line x1="187.80" y1="540" x2="277.80" y2="450" stroke="#2a2a2a" stroke-width="0.8"/>
<line x1="196.00" y1="540" x2="286.00" y2="450" stroke="#2a2a2a" stroke-width="0.8"/>
<line x1="204.20" y1="540" x2="294.20" y2="450" stroke="#2a2a2a" stroke-width="0.8"/>
<line x1="212.40" y1="540" x2="302.40" y2="450" stroke="#2a2a2a" stroke-width="0.8"/>
<line x1="220.60" y1="540" x2="310.60" y2="450" stroke="#2a2a2a" stroke-width="0.8"/>
<line x1="228.80" y1="540" x2="318.80" y2="450" stroke="#2a2a2a" stroke-width="0.8"/>
<line x1="237.00" y1="540" x2="327.00" y2="450" stroke="#2a2a2a" stroke-width="0.8"/>
<line x1="245.20" y1="540" x2="335.20" y2="450" stroke="#2a2a2a" stroke-width="0.8"/>
</g>
<line x1="229.20" y1="440.50" x2="224.20" y2="489.00" stroke="#6a6a6a" stroke-width="0.8" />
<path d="M228.60,454.20 L228.01,446.87 L230.59,447.13 Z" fill="#111" stroke="none"/>
<path d="M226.30,476.60 L226.89,483.63 L224.31,483.37 Z" fill="#111" stroke="none"/>
<line x1="226.00" y1="476.60" x2="228.50" y2="476.60" stroke="#666" stroke-width="0.7" />
<line x1="231.00" y1="476.60" x2="232.50" y2="476.60" stroke="#666" stroke-width="0.7" />
<line x1="240.50" y1="476.60" x2="242.50" y2="476.60" stroke="#666" stroke-width="0.7" />
<text x="224.50" y="474.50" font-size="10.56" text-anchor="start" fill="#4a4a4a" textLength="11.00" lengthAdjust="spacingAndGlyphs" transform="rotate(-84 224.50 474.50)" >58</text>
<text x="225.50" y="461.50" font-size="5.5" text-anchor="start" fill="#4a4a4a" textLength="5.50" lengthAdjust="spacingAndGlyphs" transform="rotate(-84 225.50 461.50)" >±1</text>
<line x1="241.50" y1="471.60" x2="262.00" y2="473.60" stroke="#6a6a6a" stroke-width="0.8" />
<line x1="240.50" y1="484.00" x2="261.50" y2="486.00" stroke="#6a6a6a" stroke-width="0.8" />
<line x1="262.20" y1="460.00" x2="255.20" y2="514.50" stroke="#6a6a6a" stroke-width="0.8" />
<path d="M260.90,473.50 L260.61,465.83 L263.19,466.17 Z" fill="#111" stroke="none"/>
<path d="M259.40,486.00 L259.79,493.17 L257.21,492.83 Z" fill="#111" stroke="none"/>
<circle cx="251.20" cy="506.60" r="3.50" stroke="#4a4a4a" stroke-width="0.75" fill="none"/>
<line x1="246.60" y1="503.40" x2="255.80" y2="509.80" stroke="#4a4a4a" stroke-width="0.75" />
<text x="256.20" y="501.60" font-size="10.56" text-anchor="start" fill="#4a4a4a" textLength="10.20" lengthAdjust="spacingAndGlyphs" transform="rotate(-84 256.20 501.60)" >32</text>
<text x="150.60" y="551.50" font-size="10.12" text-anchor="start" fill="#4a4a4a" textLength="13.20" lengthAdjust="spacingAndGlyphs" >B-B</text>
<path d="M624.50,322.30 L500.50,393.50 L666.90,489.50 L791.00,419.00 Z" stroke="#2a2a2a" stroke-width="1.1" fill="none" />
<path d="M500.50,393.50 L500.50,396.90 L666.90,492.90 L791.00,422.40 L791.00,419.00" stroke="#4a4a4a" stroke-width="0.9" fill="none" />
<line x1="666.90" y1="489.50" x2="666.90" y2="492.90" stroke="#4a4a4a" stroke-width="0.8" />
<path d="M626.66,328.96 Q624.50,327.70 622.34,328.96 L512.66,392.74 Q510.50,394.00 512.66,395.25 L664.74,483.35 Q666.90,484.60 669.06,483.34 L778.34,419.76 Q780.50,418.50 778.34,417.24 Z" stroke="#999" stroke-width="0.8" fill="none" />
<path d="M626.66,330.26 Q624.50,329.00 622.34,330.25 L514.66,392.75 Q512.50,394.00 514.66,395.25 L664.74,482.05 Q666.90,483.30 669.06,482.04 L776.34,419.76 Q778.50,418.50 776.34,417.24 Z" stroke="#2a2a2a" stroke-width="1.0" fill="none" />
<line x1="621.70" y1="331.00" x2="621.70" y2="391.00" stroke="#666" stroke-width="0.8" />
<line x1="627.70" y1="331.00" x2="627.70" y2="391.00" stroke="#666" stroke-width="0.8" />
<path d="M621.7,391 Q624.3,396 627.7,391" stroke="#666" stroke-width="0.8" fill="none" />
<line x1="621.70" y1="391.00" x2="564.20" y2="424.00" stroke="#666" stroke-width="0.8" />
<line x1="624.30" y1="395.00" x2="569.50" y2="426.40" stroke="#666" stroke-width="0.8" />
<line x1="627.70" y1="391.00" x2="726.80" y2="448.50" stroke="#666" stroke-width="0.8" />
<line x1="624.30" y1="395.00" x2="721.50" y2="450.80" stroke="#666" stroke-width="0.8" />
<ellipse cx="701.00" cy="393.20" rx="4.90" ry="6.60" stroke="#4a4a4a" stroke-width="0.8" fill="none" transform="rotate(-20 701.00 393.20)"/>
<ellipse cx="701.80" cy="393.80" rx="3.80" ry="5.60" stroke="#888" stroke-width="0.7" fill="none" transform="rotate(-20 701.80 393.80)"/>
<ellipse cx="666.00" cy="455.70" rx="23.70" ry="13.40" stroke="#2a2a2a" stroke-width="1.1" fill="none" transform="rotate(0 666.00 455.70)"/>
<ellipse cx="665.80" cy="456.50" rx="21.80" ry="12.20" stroke="#888" stroke-width="0.7" fill="none" transform="rotate(0 665.80 456.50)"/>
<ellipse cx="665.60" cy="457.30" rx="20.00" ry="11.20" stroke="#888" stroke-width="0.7" fill="none" transform="rotate(0 665.60 457.30)"/>
<ellipse cx="665.40" cy="458.10" rx="18.20" ry="10.10" stroke="#2a2a2a" stroke-width="1.0" fill="none" transform="rotate(0 665.40 458.10)"/>
<line x1="512.90" y1="404.30" x2="521.50" y2="451.00" stroke="#666" stroke-width="0.8" />
<line x1="514.90" y1="405.40" x2="522.80" y2="449.80" stroke="#888" stroke-width="0.7" />
<line x1="521.50" y1="451.00" x2="662.00" y2="531.00" stroke="#666" stroke-width="0.8" />
<line x1="522.80" y1="449.60" x2="662.00" y2="528.80" stroke="#888" stroke-width="0.7" />
<line x1="662.00" y1="492.50" x2="662.00" y2="531.00" stroke="#666" stroke-width="0.8" />
<line x1="672.50" y1="492.50" x2="672.50" y2="531.00" stroke="#666" stroke-width="0.8" />
<path d="M662,531 Q667,537 672.5,531" stroke="#666" stroke-width="0.8" fill="none" />
<line x1="672.50" y1="531.00" x2="767.50" y2="478.80" stroke="#666" stroke-width="0.8" />
<line x1="672.50" y1="528.80" x2="766.00" y2="477.50" stroke="#888" stroke-width="0.7" />
<path d="M767.5,478.8 Q770.5,477 770.6,472" stroke="#666" stroke-width="0.8" fill="none" />
<line x1="778.20" y1="429.40" x2="770.60" y2="472.00" stroke="#666" stroke-width="0.8" />
<line x1="775.60" y1="430.80" x2="768.60" y2="470.00" stroke="#888" stroke-width="0.7" />
</svg>
</body></html>
